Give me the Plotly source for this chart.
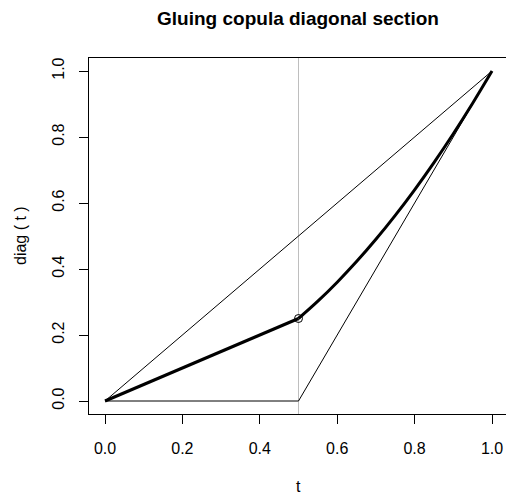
import plotly.graph_objects as go

# ---- data ----
glue_t = 0.5
left_t = [0.0, 0.5]
left_v = [0.0, 0.25]
right_t = [0.5, 0.55, 0.6, 0.65, 0.7, 0.75, 0.8, 0.85, 0.9, 0.95, 1.0]
right_v = [0.25, 0.3025, 0.36, 0.4225, 0.49, 0.5625, 0.64, 0.7225, 0.81, 0.9025, 1.0]
upper_t = [0.0, 1.0]
upper_v = [0.0, 1.0]
lower_t = [0.0, 0.5, 1.0]
lower_v = [0.0, 0.0, 1.0]
glue_pt_t = [0.5]
glue_pt_v = [0.25]
tick_vals = [0.0, 0.2, 0.4, 0.6, 0.8, 1.0]
tick_text = ["0.0", "0.2", "0.4", "0.6", "0.8", "1.0"]

FONT = "Liberation Sans, Arial, Helvetica, sans-serif"

fig = go.Figure()
fig.add_shape(type="line", xref="x", yref="paper", x0=glue_t, x1=glue_t, y0=0, y1=1,
              line=dict(color="#bebebe", width=1), layer="below")
fig.add_trace(go.Scatter(x=upper_t, y=upper_v, mode="lines",
                         line=dict(color="black", width=1), hoverinfo="skip"))
fig.add_trace(go.Scatter(x=lower_t, y=lower_v, mode="lines",
                         line=dict(color="black", width=1), hoverinfo="skip"))
fig.add_trace(go.Scatter(x=left_t, y=left_v, mode="lines",
                         line=dict(color="black", width=3)))
fig.add_trace(go.Scatter(x=right_t, y=right_v, mode="lines",
                         line=dict(color="black", width=3, shape="spline", smoothing=1)))
fig.add_trace(go.Scatter(x=glue_pt_t, y=glue_pt_v, mode="markers",
                         marker=dict(symbol="circle-open", size=8, color="black",
                                     line=dict(width=1, color="black"))))

W, H = 506, 493
L, R, T, B = 89, 0, 58, 79
fig.update_layout(
    width=W, height=H, autosize=False,
    margin=dict(l=L, r=R, t=T, b=B, pad=0),
    paper_bgcolor="white", plot_bgcolor="white",
    showlegend=False,
    font=dict(family=FONT, size=16, color="black"),
    title=dict(text="<b>Gluing copula diagonal section</b>", x=298 / W, xref="container",
               y=1 - 18.5 / H, yref="container", xanchor="center", yanchor="middle",
               font=dict(family=FONT, size=19, color="black")),
)
fig.update_xaxes(range=[-16 / 387, -16 / 387 + 417 / 387], showgrid=False, zeroline=False,
                 showline=True, mirror=True, linecolor="black", linewidth=1,
                 ticks="outside", ticklen=9, tickwidth=1, tickcolor="black",
                 tickvals=tick_vals, ticktext=tick_text, ticklabelstandoff=11)
fig.update_yaxes(range=[-13 / 330, -13 / 330 + 356 / 330], showgrid=False, zeroline=False,
                 showline=True, mirror=False, linecolor="black", linewidth=1,
                 ticks="outside", ticklen=9, tickwidth=1, tickcolor="black",
                 tickvals=tick_vals, ticktext=tick_text, tickangle=-90, ticklabelstandoff=9)
fig.add_annotation(text="t", xref="paper", yref="paper", x=(298 - L) / (W - L - R),
                   y=-(486 - (H - B)) / (H - T - B), xanchor="center", yanchor="middle",
                   showarrow=False, font=dict(family=FONT, size=16))
fig.add_annotation(text="diag ( t )", xref="paper", yref="paper", x=-(L - 20) / (W - L - R),
                   y=0.5, xanchor="center", yanchor="middle", textangle=-90,
                   showarrow=False, font=dict(family=FONT, size=16))

fig.write_html("out.html", config={"displayModeBar": False},
               post_script="document.body.style.margin='0';document.body.style.overflow='hidden';")
